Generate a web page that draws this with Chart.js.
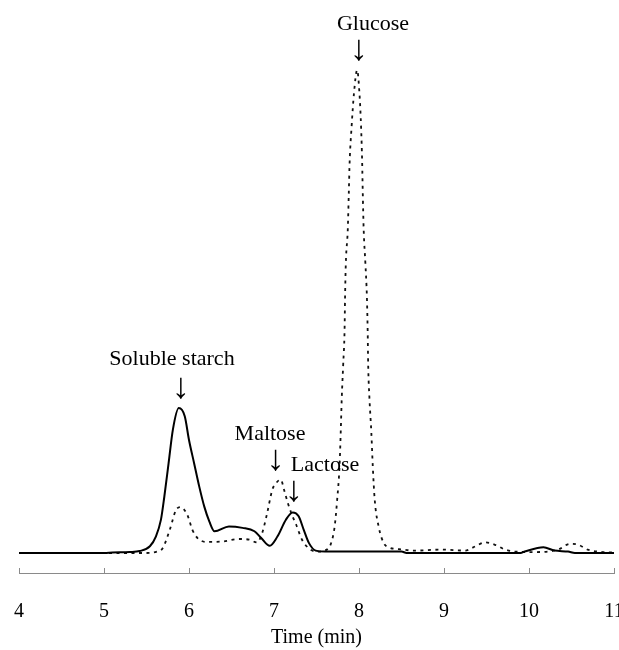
<!DOCTYPE html>
<html>
<head>
<meta charset="utf-8">
<script src="https://cdn.jsdelivr.net/npm/chart.js@4.4.1/dist/chart.umd.min.js"></script>
<style>
  html, body { margin: 0; padding: 0; background: #fff; }
  #wrap { width: 619px; height: 650px; }
</style>
</head>
<body>
<div id="wrap"><canvas id="c" width="619" height="650"></canvas></div>
<script>
// ---- Data ----
const xTicks = [4, 5, 6, 7, 8, 9, 10, 11];
const xTitle = 'Time (min)';

// solid trace (sample)
const sampleTime = [4.0, 5.0, 5.1, 5.3, 5.42, 5.54, 5.61, 5.67, 5.71, 5.76, 5.81, 5.88, 5.95, 6.0, 6.06, 6.12, 6.18, 6.24, 6.30, 6.47, 6.63, 6.77, 6.85, 6.95, 7.04, 7.14, 7.22, 7.29, 7.35, 7.41, 7.49, 7.6, 8.5, 8.56, 9.9, 9.95, 10.17, 10.3, 10.46, 10.54, 11.0];
const sampleSignal = [0, 0, 0.1, 0.2, 0.4, 1.4, 3.4, 6.9, 11.7, 18.6, 25.5, 30.0, 28.3, 23.4, 18.6, 13.8, 9.6, 6.5, 4.5, 5.5, 5.2, 4.5, 3.1, 1.5, 3.4, 6.9, 8.4, 7.6, 4.8, 2.1, 0.5, 0.3, 0.3, 0, 0, 0.3, 1.2, 0.5, 0.3, 0, 0];

// dotted trace (standards)
const standardTime = [4.0, 5.5, 5.62, 5.69, 5.77, 5.85, 5.90, 5.98, 6.04, 6.10, 6.20, 6.40, 6.59, 6.71, 6.80, 6.86, 6.92, 6.98, 7.03, 7.08, 7.12, 7.16, 7.22, 7.26, 7.33, 7.43, 7.53, 7.60, 7.646, 7.673, 7.713, 7.743, 7.771, 7.785, 7.797, 7.814, 7.83, 7.836, 7.845, 7.868, 7.88, 7.89, 7.912, 7.94, 7.978, 8.006, 8.025, 8.037, 8.045, 8.055, 8.075, 8.093, 8.102, 8.108, 8.123, 8.145, 8.162, 8.185, 8.232, 8.29, 8.36, 8.47, 8.66, 8.97, 9.25, 9.37, 9.48, 9.6, 9.72, 9.83, 10.07, 10.34, 10.48, 10.58, 10.69, 10.81, 10.96, 11.0];
const standardSignal = [0, 0, 0.3, 1.0, 4.6, 9.0, 9.5, 7.9, 4.8, 3.1, 2.3, 2.4, 2.9, 2.75, 2.2, 4.1, 8.3, 13.1, 14.6, 15.2, 13.0, 10.5, 7.5, 5.9, 2.75, 0.7, 0.3, 0.5, 1.1, 2.1, 5.4, 11, 18, 25, 32, 39, 46, 53, 60, 67, 74.5, 81, 88, 95, 100, 95, 88, 81, 74, 67, 60, 53, 46, 39, 32, 25, 18, 11, 5.4, 2.1, 1.1, 0.8, 0.5, 0.7, 0.5, 1.4, 2.2, 1.7, 0.7, 0.3, 0.2, 0.7, 1.9, 1.7, 0.7, 0.3, 0.1, 0.1];

// peak annotations (label text, data-space anchor of label, data-space anchor of arrow)
const peakNames = ['Soluble starch', 'Glucose', 'Maltose', 'Lactose'];
const labelX = [5.80, 8.165, 6.953, 7.60];
const labelY = [40.2, 109.5, 24.5, 18.1];
const arrowX = [5.906, 8.0, 7.02, 7.235];
const arrowY = [34.0, 104.1, 19.2, 12.7];

// ---- Chart ----
const toPoints = (xs, ys) => xs.map((x, i) => ({x: x, y: ys[i]}));
const serif = '"Liberation Serif", "Times New Roman", serif';

const annotationPlugin = {
  id: 'peakLabels',
  afterDatasetsDraw(chart) {
    const ctx = chart.ctx;
    const xs = chart.scales.x, ys = chart.scales.y;
    ctx.save();
    ctx.fillStyle = '#000';
    ctx.textAlign = 'center';
    ctx.textBaseline = 'middle';
    peakNames.forEach((t, i) => {
      ctx.font = '22px ' + serif;
      ctx.fillText(t, xs.getPixelForValue(labelX[i]), ys.getPixelForValue(labelY[i]));
      ctx.font = '36px ' + serif;
      ctx.fillText('\u2193', xs.getPixelForValue(arrowX[i]), ys.getPixelForValue(arrowY[i]));
    });
    ctx.restore();
  }
};

new Chart(document.getElementById('c'), {
  type: 'line',
  data: {
    datasets: [
      {
        label: 'Sample',
        data: toPoints(sampleTime, sampleSignal),
        borderColor: '#000',
        borderWidth: 2,
        pointRadius: 0,
        fill: false,
        cubicInterpolationMode: 'monotone'
      },
      {
        label: 'Standards',
        data: toPoints(standardTime, standardSignal),
        borderColor: '#111',
        borderWidth: 1.8,
        borderDash: [3, 4.5],
        pointRadius: 0,
        fill: false,
        cubicInterpolationMode: 'monotone'
      }
    ]
  },
  options: {
    responsive: false,
    animation: false,
    events: [],
    layout: { autoPadding: false, padding: { left: 19, right: 5, top: 0, bottom: 0 } },
    plugins: { legend: { display: false }, tooltip: { enabled: false } },
    scales: {
      x: {
        type: 'linear',
        min: 4,
        max: 11,
        afterBuildTicks: (s) => { s.ticks = xTicks.map(v => ({value: v})); },
        afterFit: (s) => { s.height = 77; s.paddingLeft = 0; s.paddingRight = 0; },
        grid: { drawOnChartArea: false, drawTicks: true, tickLength: -5, color: '#8a8a8a', lineWidth: 1 },
        border: { display: true, color: '#8a8a8a', width: 1 },
        ticks: { color: '#000', font: { family: serif, size: 20 }, padding: 32, maxRotation: 0 },
        title: { display: true, text: xTitle, color: '#000', font: { family: serif, size: 20 }, padding: { top: 0, bottom: 0 } }
      },
      y: {
        type: 'linear',
        display: false,
        min: -4.14,
        max: 114.5
      }
    }
  },
  plugins: [annotationPlugin]
});
</script>
</body>
</html>
